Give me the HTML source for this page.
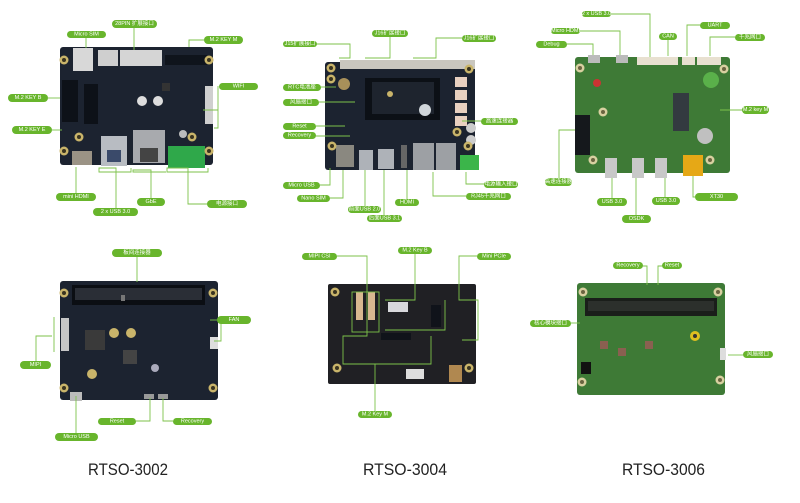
<!DOCTYPE html>
<html><head><meta charset="utf-8"><style>
html,body{margin:0;padding:0;background:#fff;}
svg{display:block;}
.p{fill:#68b52c;}
.t{fill:#fff;font-family:"Liberation Sans","Noto Sans CJK SC",sans-serif;font-size:5.5px;text-anchor:middle;dominant-baseline:central;}
.l{stroke:#7cc24a;stroke-width:0.9;fill:none;}
.h{font-family:"Liberation Sans",sans-serif;font-size:17px;fill:#222;}
</style></head><body>
<svg width="800" height="503" viewBox="0 0 800 503" xmlns="http://www.w3.org/2000/svg">
<defs>
<g id="hole"><circle r="4.5" fill="#c9b46a"/><circle r="2" fill="#3a3420"/></g>
<g id="holeg"><circle r="4.5" fill="#d8d0a0"/><circle r="2" fill="#6b6540"/></g>
</defs>

<!-- ===== Board 1 RTSO-3002 top ===== -->
<rect x="60" y="47" width="153" height="118" rx="3" fill="#1c2330"/>
<rect x="73" y="48" width="20" height="23" fill="#d8d8d8"/>
<rect x="98" y="50" width="20" height="16" fill="#cfcfcf"/>
<rect x="120" y="50" width="42" height="16" fill="#d5d5d5"/>
<rect x="165" y="55" width="42" height="10" fill="#0f141c"/>
<rect x="62" y="80" width="16" height="42" fill="#0d1118"/>
<rect x="84" y="84" width="14" height="40" fill="#0d1118"/>
<rect x="205" y="86" width="8" height="38" fill="#cfcfcf"/>
<rect x="162" y="83" width="8" height="8" fill="#333"/>
<circle cx="142" cy="101" r="5" fill="#ddd"/><circle cx="158" cy="101" r="5" fill="#ddd"/>
<rect x="101" y="136" width="26" height="30" fill="#b8bcc2"/>
<rect x="107" y="150" width="14" height="12" fill="#3a4a6a"/>
<rect x="133" y="130" width="32" height="33" fill="#a8aaae"/>
<rect x="140" y="148" width="18" height="14" fill="#444"/>
<rect x="168" y="146" width="37" height="22" fill="#2fa84a"/>
<rect x="72" y="151" width="20" height="14" fill="#9b9385"/>
<use href="#hole" x="64" y="60"/><use href="#hole" x="209" y="60"/><use href="#hole" x="64" y="151"/><use href="#hole" x="209" y="151"/>
<use href="#hole" x="79" y="137"/><use href="#hole" x="192" y="137"/>
<circle cx="183" cy="134" r="4" fill="#bbb"/>
<g class="l">
<path d="M134 28V50"/><path d="M86 37V48"/><path d="M204 40H189V47"/><path d="M218 86V110H203M218 86V128H214"/>
<path d="M48 98H60"/><path d="M52 130H62"/><path d="M76 193V167"/><path d="M116 208V168H99V172H131V168"/>
<path d="M151 198V170H133V172H166"/><path d="M207 204H188V168H167V172H208V168"/>
</g>
<rect class="p" x="112" y="20" width="45" height="8" rx="4"/><text class="t" x="134.5" y="24">28PIN 扩展接口</text>
<rect class="p" x="67" y="31" width="39" height="7" rx="3.5"/><text class="t" x="86.5" y="34.5">Micro SIM</text>
<rect class="p" x="204" y="36" width="39" height="8" rx="4"/><text class="t" x="223.5" y="40">M.2 KEY M</text>
<rect class="p" x="219" y="83" width="39" height="7" rx="3.5"/><text class="t" x="238.5" y="86.5">WIFI</text>
<rect class="p" x="8" y="94" width="40" height="8" rx="4"/><text class="t" x="28" y="98">M.2 KEY B</text>
<rect class="p" x="12" y="126" width="40" height="8" rx="4"/><text class="t" x="32" y="130">M.2 KEY E</text>
<rect class="p" x="56" y="193" width="40" height="8" rx="4"/><text class="t" x="76" y="197">mini HDMI</text>
<rect class="p" x="137" y="198" width="28" height="8" rx="4"/><text class="t" x="151" y="202">GbE</text>
<rect class="p" x="207" y="200" width="40" height="8" rx="4"/><text class="t" x="227" y="204">电源接口</text>
<rect class="p" x="93" y="208" width="45" height="8" rx="4"/><text class="t" x="115.5" y="212">2 x USB 3.0</text>

<!-- ===== Board 2 RTSO-3004 top ===== -->
<rect x="325" y="62" width="150" height="108" rx="3" fill="#1c2330"/>
<rect x="340" y="60" width="135" height="9" fill="#c9c6be"/>
<rect x="365" y="78" width="75" height="42" fill="#0c1016"/>
<rect x="372" y="82" width="62" height="32" fill="#1e242e"/>
<circle cx="390" cy="94" r="3" fill="#c9b46a"/>
<circle cx="425" cy="110" r="6" fill="#d0d6da"/>
<circle cx="344" cy="84" r="6" fill="#a8905a"/>
<rect x="455" y="77" width="12" height="10" fill="#e8d0c0"/><rect x="455" y="90" width="12" height="10" fill="#e8d0c0"/>
<rect x="455" y="103" width="12" height="10" fill="#e8d0c0"/><rect x="455" y="116" width="12" height="10" fill="#e8d0c0"/>
<circle cx="471" cy="128" r="5" fill="#ccc"/><circle cx="471" cy="140" r="5" fill="#ccc"/>
<rect x="336" y="145" width="18" height="22" fill="#8a8880"/>
<rect x="359" y="150" width="14" height="20" fill="#aeb2b8"/>
<rect x="378" y="149" width="16" height="20" fill="#aeb2b8"/>
<rect x="401" y="145" width="6" height="23" fill="#666"/>
<rect x="413" y="143" width="21" height="27" fill="#9da0a4"/>
<rect x="436" y="143" width="20" height="27" fill="#9da0a4"/>
<rect x="460" y="155" width="19" height="15" fill="#3bb54a"/>
<use href="#hole" x="331" y="68"/><use href="#hole" x="331" y="79"/><use href="#hole" x="469" y="69"/><use href="#hole" x="332" y="146"/><use href="#hole" x="468" y="146"/><use href="#hole" x="457" y="132"/>
<g class="l">
<path d="M317 44H350V58H339"/><path d="M390 36V58H365"/><path d="M462 38H436V58H413"/>
<path d="M321 87H336"/><path d="M319 102H355"/><path d="M316 126H345"/><path d="M316 136H350"/>
<path d="M481 121H462"/><path d="M320 185H330V168"/><path d="M330 198H343V170"/>
<path d="M484 184H466V172"/><path d="M466 196H433V172"/><path d="M407 199V170"/>
<path d="M365 209V170"/><path d="M384 215V170"/>
</g>
<rect class="p" x="283" y="41" width="34" height="6" rx="3"/><text class="t" x="300" y="44">J15扩展接口</text>
<rect class="p" x="372" y="30" width="36" height="7" rx="3.5"/><text class="t" x="390" y="33.5">J16扩展接口</text>
<rect class="p" x="462" y="35" width="34" height="7" rx="3.5"/><text class="t" x="479" y="38.5">J16扩展接口</text>
<rect class="p" x="283" y="84" width="38" height="7" rx="3.5"/><text class="t" x="302" y="87.5">RTC电池座</text>
<rect class="p" x="283" y="99" width="36" height="7" rx="3.5"/><text class="t" x="301" y="102.5">风扇接口</text>
<rect class="p" x="283" y="123" width="33" height="7" rx="3.5"/><text class="t" x="299.5" y="126.5">Reset</text>
<rect class="p" x="283" y="132" width="33" height="7" rx="3.5"/><text class="t" x="299.5" y="135.5">Recovery</text>
<rect class="p" x="481" y="118" width="37" height="7" rx="3.5"/><text class="t" x="499.5" y="121.5">高速连接器</text>
<rect class="p" x="283" y="182" width="37" height="7" rx="3.5"/><text class="t" x="301.5" y="185.5">Micro USB</text>
<rect class="p" x="297" y="195" width="33" height="7" rx="3.5"/><text class="t" x="313.5" y="198.5">Nano SIM</text>
<rect class="p" x="484" y="181" width="34" height="7" rx="3.5"/><text class="t" x="501" y="184.5">电源输入接口</text>
<rect class="p" x="466" y="193" width="45" height="7" rx="3.5"/><text class="t" x="488.5" y="196.5">RJ45千兆网口</text>
<rect class="p" x="395" y="199" width="24" height="7" rx="3.5"/><text class="t" x="407" y="202.5">HDMI</text>
<rect class="p" x="348" y="206" width="33" height="7" rx="3.5"/><text class="t" x="364.5" y="209.5">前面USB 2.0</text>
<rect class="p" x="367" y="215" width="35" height="7" rx="3.5"/><text class="t" x="384.5" y="218.5">后面USB 3.1</text>

<!-- ===== Board 3 RTSO-3006 top ===== -->
<rect x="575" y="57" width="155" height="116" rx="3" fill="#3e7a36"/>
<rect x="588" y="55" width="12" height="8" fill="#bbb"/>
<rect x="616" y="55" width="12" height="8" fill="#bbb"/>
<rect x="637" y="57" width="33" height="8" fill="#e8e0d0"/>
<rect x="666" y="57" width="12" height="8" fill="#e8e0d0"/>
<rect x="682" y="57" width="13" height="8" fill="#e8e0d0"/>
<rect x="697" y="57" width="24" height="8" fill="#e8e0d0"/>
<circle cx="711" cy="80" r="8" fill="#5ab04a"/>
<circle cx="597" cy="83" r="4" fill="#c33"/>
<rect x="673" y="93" width="16" height="38" fill="#333a40"/>
<circle cx="705" cy="136" r="8" fill="#c0c0c0"/>
<rect x="575" y="115" width="15" height="40" fill="#15181c"/>
<rect x="605" y="158" width="12" height="20" fill="#c8c8c8"/>
<rect x="632" y="158" width="12" height="20" fill="#c8c8c8"/>
<rect x="655" y="158" width="12" height="20" fill="#c8c8c8"/>
<rect x="683" y="155" width="20" height="21" fill="#e6a816"/>
<use href="#holeg" x="580" y="68"/><use href="#holeg" x="724" y="69"/><use href="#holeg" x="593" y="160"/><use href="#holeg" x="710" y="160"/><use href="#holeg" x="603" y="112"/>
<g class="l">
<path d="M611 14H650V57"/><path d="M580 31H620V55"/><path d="M567 44H593V55"/>
<path d="M668 37V56"/><path d="M700 25H687V56"/><path d="M735 37H710V56"/>
<path d="M742 110H720"/><path d="M559 178V130H575"/><path d="M612 201V178"/>
<path d="M636 218V178"/><path d="M665 201V178"/><path d="M695 197H693V176"/>
</g>
<rect class="p" x="582" y="11" width="29" height="6" rx="3"/><text class="t" x="596.5" y="14">2 x USB 3.0</text>
<rect class="p" x="551" y="28" width="29" height="6" rx="3"/><text class="t" x="565.5" y="31">Micro HDMI</text>
<rect class="p" x="536" y="41" width="31" height="7" rx="3.5"/><text class="t" x="551.5" y="44.5">Debug</text>
<rect class="p" x="659" y="33" width="18" height="7" rx="3.5"/><text class="t" x="668" y="36.5">CAN</text>
<rect class="p" x="700" y="22" width="30" height="7" rx="3.5"/><text class="t" x="715" y="25.5">UART</text>
<rect class="p" x="735" y="34" width="30" height="7" rx="3.5"/><text class="t" x="750" y="37.5">千兆网口</text>
<rect class="p" x="742" y="106" width="27" height="8" rx="4"/><text class="t" x="755.5" y="110">M.2 key M</text>
<rect class="p" x="545" y="178" width="27" height="8" rx="4"/><text class="t" x="558.5" y="182">高速连接器</text>
<rect class="p" x="597" y="198" width="30" height="8" rx="4"/><text class="t" x="612" y="202">USB 3.0</text>
<rect class="p" x="622" y="215" width="29" height="8" rx="4"/><text class="t" x="636.5" y="219">OSDK</text>
<rect class="p" x="652" y="197" width="28" height="8" rx="4"/><text class="t" x="666" y="201">USB 3.0</text>
<rect class="p" x="695" y="193" width="43" height="8" rx="4"/><text class="t" x="716.5" y="197">XT30</text>

<!-- ===== Board 4 RTSO-3002 bottom ===== -->
<rect x="60" y="281" width="158" height="119" rx="3" fill="#1c2330"/>
<rect x="72" y="285" width="133" height="20" fill="#0b0e13"/>
<rect x="75" y="288" width="127" height="12" fill="#2a2e36"/>
<rect x="121" y="295" width="4" height="6" fill="#777"/>
<rect x="61" y="318" width="8" height="33" fill="#c6c6c6"/>
<rect x="85" y="330" width="20" height="20" fill="#3a3a3a"/>
<circle cx="114" cy="333" r="5" fill="#c9b46a"/><circle cx="131" cy="333" r="5" fill="#c9b46a"/>
<rect x="123" y="350" width="14" height="14" fill="#444"/>
<circle cx="92" cy="374" r="5" fill="#c9b46a"/><circle cx="155" cy="368" r="4" fill="#aab"/>
<rect x="210" y="337" width="8" height="12" fill="#ddd"/>
<rect x="70" y="392" width="12" height="9" fill="#bbb"/>
<rect x="144" y="394" width="10" height="5" fill="#999"/><rect x="158" y="394" width="10" height="5" fill="#999"/>
<use href="#hole" x="64" y="293"/><use href="#hole" x="213" y="293"/><use href="#hole" x="64" y="388"/><use href="#hole" x="213" y="388"/>
<g class="l">
<path d="M137 256V282"/><path d="M217 320H210"/><path d="M221 320V341H214"/>
<path d="M36 362V336H52M54 317V352"/><path d="M76 433V396"/><path d="M136 421H150V398"/><path d="M173 421H163V398"/>
</g>
<rect class="p" x="112" y="249" width="50" height="8" rx="4"/><text class="t" x="137" y="253">板间连接器</text>
<rect class="p" x="217" y="316" width="34" height="8" rx="4"/><text class="t" x="234" y="320">FAN</text>
<rect class="p" x="20" y="361" width="31" height="8" rx="4"/><text class="t" x="35.5" y="365">MIPI</text>
<rect class="p" x="98" y="418" width="38" height="7" rx="3.5"/><text class="t" x="117" y="421.5">Reset</text>
<rect class="p" x="173" y="418" width="39" height="7" rx="3.5"/><text class="t" x="192.5" y="421.5">Recovery</text>
<rect class="p" x="55" y="433" width="43" height="8" rx="4"/><text class="t" x="76.5" y="437">Micro USB</text>

<!-- ===== Board 5 RTSO-3004 bottom ===== -->
<rect x="328" y="284" width="148" height="100" rx="2" fill="#202024"/>
<rect x="356" y="292" width="7" height="28" fill="#d8b890"/><rect x="368" y="292" width="7" height="28" fill="#d8b890"/>
<rect x="388" y="302" width="20" height="10" fill="#d8d8dc"/>
<rect x="431" y="305" width="10" height="22" fill="#10131a"/>
<rect x="381" y="333" width="30" height="7" fill="#10131a"/>
<rect x="406" y="369" width="18" height="10" fill="#ddd"/>
<rect x="449" y="365" width="13" height="17" fill="#b08850"/>
<use href="#hole" x="335" y="292"/><use href="#hole" x="337" y="368"/><use href="#hole" x="469" y="368"/>
<g class="l">
<path d="M337 256H367V336H343V364H431V336"/><rect x="352" y="292" width="27" height="40"/>
<path d="M415 253V300H385M385 330H445V300"/><path d="M477 256H459V300H478V340H462"/>
<path d="M375 411V364"/>
</g>
<rect class="p" x="302" y="253" width="35" height="7" rx="3.5"/><text class="t" x="319.5" y="256.5">MIPI CSI</text>
<rect class="p" x="398" y="247" width="34" height="7" rx="3.5"/><text class="t" x="415" y="250.5">M.2 Key B</text>
<rect class="p" x="477" y="253" width="34" height="7" rx="3.5"/><text class="t" x="494" y="256.5">Mini PCIe</text>
<rect class="p" x="358" y="411" width="34" height="7" rx="3.5"/><text class="t" x="375" y="414.5">M.2 Key M</text>

<!-- ===== Board 6 RTSO-3006 bottom ===== -->
<rect x="577" y="283" width="148" height="112" rx="3" fill="#3e7a36"/>
<rect x="585" y="298" width="132" height="18" fill="#1a1e1a"/>
<rect x="588" y="301" width="126" height="10" fill="#2c302c"/>
<circle cx="695" cy="336" r="5" fill="#e0c020"/><circle cx="695" cy="336" r="2" fill="#333"/>
<rect x="720" y="348" width="6" height="12" fill="#ddd"/>
<rect x="600" y="341" width="8" height="8" fill="#8a6050"/><rect x="618" y="348" width="8" height="8" fill="#8a6050"/><rect x="645" y="341" width="8" height="8" fill="#8a6050"/>
<rect x="581" y="362" width="10" height="12" fill="#111"/>
<use href="#holeg" x="583" y="292"/><use href="#holeg" x="718" y="292"/><use href="#holeg" x="582" y="382"/><use href="#holeg" x="720" y="380"/>
<g class="l">
<path d="M643 266H647V285"/><path d="M662 266H658V285"/><path d="M571 323H580"/><path d="M743 355H728"/>
</g>
<rect class="p" x="613" y="262" width="30" height="7" rx="3.5"/><text class="t" x="628" y="265.5">Recovery</text>
<rect class="p" x="662" y="262" width="20" height="7" rx="3.5"/><text class="t" x="672" y="265.5">Reset</text>
<rect class="p" x="530" y="320" width="41" height="7" rx="3.5"/><text class="t" x="550.5" y="323.5">核心模块接口</text>
<rect class="p" x="743" y="351" width="30" height="7" rx="3.5"/><text class="t" x="758" y="354.5">风扇接口</text>

<!-- Titles -->
<text class="h" x="88" y="475" textLength="80" lengthAdjust="spacingAndGlyphs">RTSO-3002</text>
<text class="h" x="363" y="475" textLength="84" lengthAdjust="spacingAndGlyphs">RTSO-3004</text>
<text class="h" x="622" y="475" textLength="83" lengthAdjust="spacingAndGlyphs">RTSO-3006</text>
</svg>
</body></html>
